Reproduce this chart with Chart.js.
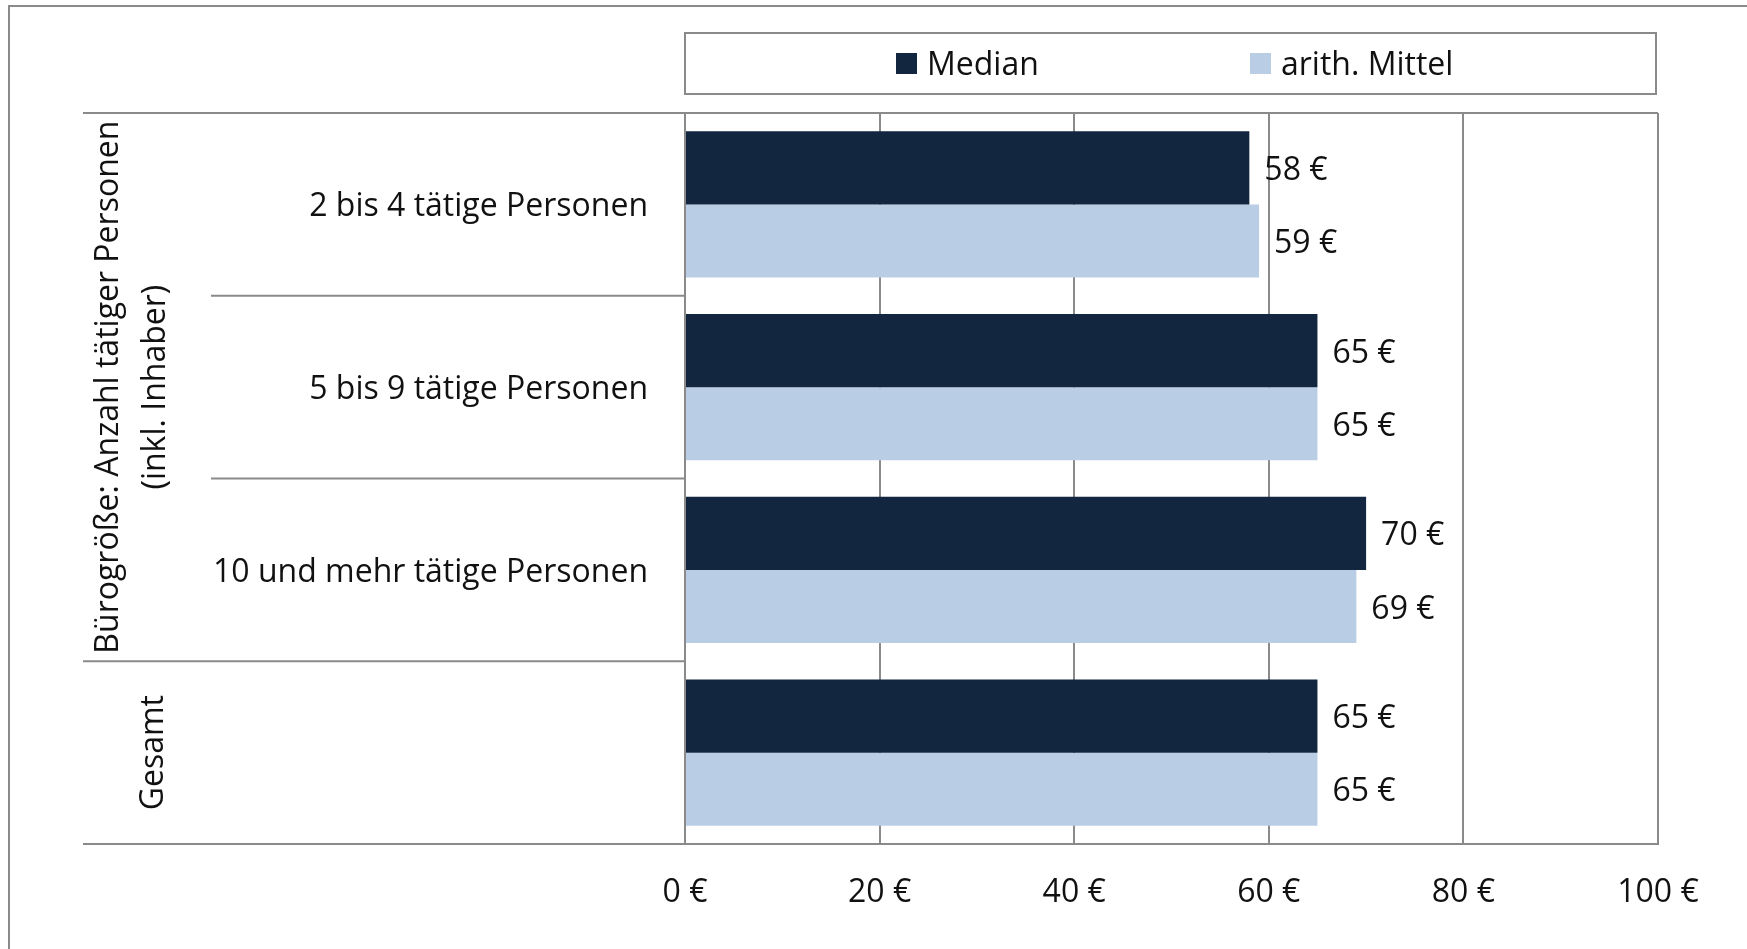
<!DOCTYPE html>
<html><head><meta charset="utf-8">
<script src="https://cdn.jsdelivr.net/npm/chart.js@4/dist/chart.umd.min.js"></script>
<style>html,body{margin:0;padding:0;background:#fff;} #wrap{position:relative;width:1747px;height:949px;}</style>
</head><body><div id="wrap"><canvas id="c"></canvas></div>
<script>
const categories = ['2 bis 4 tätige Personen', '5 bis 9 tätige Personen', '10 und mehr tätige Personen', 'Gesamt'];
const subLabels = ['2 bis 4 tätige Personen', '5 bis 9 tätige Personen', '10 und mehr tätige Personen', ''];
const seriesNames = ['Median', 'arith. Mittel'];
const medianValues = [58, 65, 70, 65];
const meanValues = [59, 65, 69, 65];
const groupLabels = [['Bürogröße: Anzahl tätiger Personen', '(inkl. Inhaber)'], ['Gesamt']];
const groupRanges = [[0, 2], [3, 3]];
const tickValues = [0, 20, 40, 60, 80, 100];
const seriesColors = ['#12263F', '#B9CDE5'];

const FONT = "'Open Sans', sans-serif";
const FW = '400';
const FS = 32;
const GRID = '#8a8a8a';
const TXT = '#111111';
const DY = 3;

const decor = {
  id: 'decor',
  afterDraw(chart) {
    const ctx = chart.ctx;
    const ca = chart.chartArea;
    const ys = chart.scales.y;
    ctx.save();
    ctx.strokeStyle = GRID;
    ctx.lineWidth = 2;
    // outer frame (top and left)
    ctx.beginPath();
    ctx.moveTo(8, 6); ctx.lineTo(1747, 6);
    ctx.moveTo(9, 6); ctx.lineTo(9, 949);
    ctx.stroke();
    // legend box
    ctx.strokeRect(ca.left, 33, 971, 61);
    const items = [{x: 896, tx: 927}, {x: 1250, tx: 1281}];
    ctx.font = FW + ' ' + FS + 'px ' + FONT;
    ctx.textBaseline = 'middle';
    ctx.textAlign = 'left';
    seriesNames.forEach((n, i) => {
      ctx.fillStyle = seriesColors[i];
      ctx.fillRect(items[i].x, 53, 21, 21);
      ctx.fillStyle = TXT;
      ctx.fillText(n, items[i].tx, 63 + DY);
    });
    // category boundaries
    const n = categories.length;
    const step = (ys.getPixelForValue(1) - ys.getPixelForValue(0));
    const bounds = [];
    for (let i = 0; i <= n; i++) bounds.push(ys.getPixelForValue(i) - step / 2);
    ctx.beginPath();
    ctx.moveTo(83, bounds[0]); ctx.lineTo(ca.right, bounds[0]);
    ctx.moveTo(83, bounds[n]); ctx.lineTo(ca.right, bounds[n]);
    for (let i = 1; i < n; i++) {
      const isGroupEdge = groupRanges.some(r => r[0] === i);
      ctx.moveTo(isGroupEdge ? 83 : 211, bounds[i]);
      ctx.lineTo(ca.left, bounds[i]);
    }
    ctx.moveTo(ca.right, bounds[0]); ctx.lineTo(ca.right, bounds[n]);
    ctx.stroke();
    // sub labels
    ctx.fillStyle = TXT;
    ctx.textAlign = 'right';
    subLabels.forEach((s, i) => {
      if (s) ctx.fillText(s, 648, ys.getPixelForValue(i) + DY);
    });
    // group labels rotated
    const gx = [[109, 156], [154]];
    groupLabels.forEach((lines, g) => {
      const r = groupRanges[g];
      const cy = (bounds[r[0]] + bounds[r[1] + 1]) / 2;
      lines.forEach((t, k) => {
        ctx.save();
        ctx.translate(gx[g][k], cy);
        ctx.rotate(-Math.PI / 2);
        ctx.textAlign = 'center';
        ctx.fillText(t, 0, 0);
        ctx.restore();
      });
    });
    // data labels
    ctx.textAlign = 'left';
    chart.data.datasets.forEach((ds, di) => {
      const meta = chart.getDatasetMeta(di);
      meta.data.forEach((bar, i) => {
        ctx.fillText(ds.data[i] + ' €', bar.x + 15, bar.y + DY);
      });
    });
    ctx.restore();
  }
};

new Chart(document.getElementById('c'), {
  type: 'bar',
  data: {
    labels: categories,
    datasets: [
      {label: seriesNames[0], data: medianValues, backgroundColor: seriesColors[0], categoryPercentage: 0.8, barPercentage: 1.0},
      {label: seriesNames[1], data: meanValues, backgroundColor: seriesColors[1], categoryPercentage: 0.8, barPercentage: 1.0}
    ]
  },
  options: {
    indexAxis: 'y',
    responsive: true,
    maintainAspectRatio: false,
    animation: false,
    layout: {padding: {left: 685, right: 89, top: 113, bottom: 0}},
    plugins: {legend: {display: false}, tooltip: {enabled: false}},
    scales: {
      y: {display: false},
      x: {
        min: tickValues[0], max: tickValues[tickValues.length - 1],
        afterBuildTicks: (s) => { s.ticks = tickValues.map(v => ({value: v})); },
        afterFit: (s) => { s.height = 105; },
        grid: {color: GRID, lineWidth: 2, drawTicks: false},
        border: {color: GRID, width: 2},
        ticks: {padding: 30, color: TXT, font: {family: FONT, size: FS, weight: FW}, callback: v => v + ' €', maxRotation: 0}
      }
    }
  },
  plugins: [decor]
});
</script></body></html>
